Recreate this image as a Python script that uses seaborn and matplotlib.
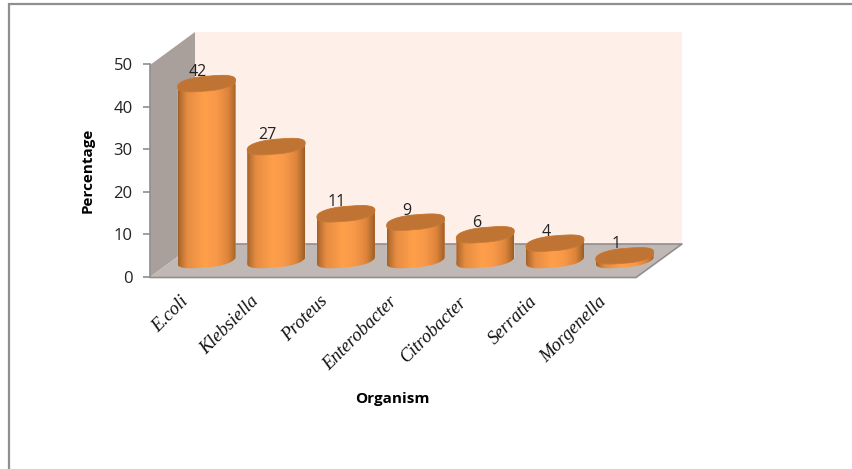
import numpy as np
import pandas as pd
import matplotlib
matplotlib.use("Agg")
import matplotlib.pyplot as plt
from matplotlib.colors import LinearSegmentedColormap
from matplotlib.patches import Polygon, PathPatch
from matplotlib.path import Path
import seaborn as sns

organisms = ["E.coli", "Klebsiella", "Proteus", "Enterobacter",
             "Citrobacter", "Serratia", "Morgenella"]
percentages = [42, 27, 11, 9, 6, 4, 1]
axis_ticks = [0, 10, 20, 30, 40, 50]

W, H = 852, 469
sns.set_theme(style="white")
plt.rcParams["font.family"] = ["Open Sans", "DejaVu Sans"]

fig = plt.figure(figsize=(W / 100, H / 100), dpi=100, facecolor="white")


def px_axes(left, top, right, bottom, **kw):
    """Axes placed by pixel box, measured from the top-left of the figure."""
    return fig.add_axes([left / W, 1 - bottom / H, (right - left) / W, (bottom - top) / H], **kw)


# Scenery: outer frame, walls and floor, in pixel coordinates
bg = px_axes(0, 0, W, H)
bg.set_xlim(0, W)
bg.set_ylim(H, 0)
bg.axis("off")
bg.plot([8.5, 8.5, W], [H, 4, 4], color="#8f8f8f", lw=1.6, solid_joinstyle="miter")
bg.add_patch(Polygon([(195, 32), (682, 32), (682, 244), (195, 244)], fc="#FEEFE8", ec="none"))
bg.add_patch(Polygon([(150, 65), (195, 32), (195, 244), (150, 277)], fc="#A9A09C", ec="none"))
bg.add_patch(Polygon([(150, 277), (195, 244), (682, 244), (636, 277)], fc="#C0B8B4", ec="none"))
bg.plot([195, 682, 636, 150], [244, 244, 277.5, 277.5], color="#8f8f8f", lw=1.2)

# Value axis along the front edge of the left wall
axv = px_axes(150, 64, 636, 277)
axv.patch.set_alpha(0)
axv.set_ylim(0, 50)
axv.set_xlim(0, 1)
axv.set_xticks([])
axv.set_yticks(axis_ticks)
axv.tick_params(axis="y", length=5, width=1.2, color="#8f8f8f", pad=7.5,
                labelsize=12, labelcolor="#222222", left=True)
for side in ("top", "right", "bottom"):
    axv.spines[side].set_visible(False)
axv.spines["left"].set_color("#8f8f8f")
axv.spines["left"].set_linewidth(1.2)
bg.text(88, 170, "Percentage", rotation=90, ha="center", va="center",
        fontsize=11, fontweight="bold", color="black")

# Cylinders: one category step is 69.7 px, one percent is 4.2 px, base sits at y=260
STEP, UNIT, BASE = 69.7, 4.2, 260
MARGIN = 12  # px of room under the base for the rounded cylinder foot
left = 206.5 - STEP / 2
axb = px_axes(left, 20, left + 7 * STEP, BASE + MARGIN)
axb.patch.set_alpha(0)
y_limits = (-MARGIN / UNIT, (BASE - 20) / UNIT)
axb.axis("off")

df = pd.DataFrame({"organism": organisms, "percentage": percentages})
sns.barplot(data=df, x="organism", y="percentage", ax=axb, color="#E88C40",
            width=58 / STEP, saturation=1, zorder=2)

shade = LinearSegmentedColormap.from_list("cyl", [
    (0.00, "#A0602A"), (0.05, "#BC7232"), (0.16, "#E68D42"), (0.45, "#FF9F4A"),
    (0.65, "#F8994A"), (0.85, "#DE853B"), (0.95, "#B46C2E"), (1.00, "#9A5C25")])
gradient = np.linspace(0, 1, 256)[None, :]

A, B, TILT = 29.0, 7.4, 3.4  # rim half-axes and tilt, px
ROUND = 0.82                 # exponent below 1 gives the rim blunt, squarish ends


def rim(cx, v, t):
    """Points on the slanted rim at value v, in data coordinates."""
    c, s = np.cos(t), np.sin(t)
    dx = A * np.sign(c) * np.abs(c) ** ROUND
    dy = B * np.sign(s) * np.abs(s) ** ROUND + TILT * c
    return cx + dx / STEP, v + dy / UNIT


for bar, value in zip(axb.patches, percentages):
    cx = bar.get_x() + bar.get_width() / 2
    tt = np.linspace(0, np.pi, 60)
    top_x, top_y = rim(cx, value, tt)            # far half of the top rim
    bot_x, bot_y = rim(cx, 0, tt + np.pi)        # near half of the base rim
    outline = Path(np.column_stack([np.r_[top_x, bot_x], np.r_[top_y, bot_y]]))
    clip = PathPatch(outline, transform=axb.transData, fc="none", ec="none")
    axb.add_patch(clip)
    bar.set_clip_path(clip)
    im = axb.imshow(gradient, cmap=shade, aspect="auto", zorder=3, interpolation="bilinear",
                    extent=[cx - A / STEP, cx + A / STEP, -3, value + 3])
    im.set_clip_path(clip)
    full = np.linspace(0, 2 * np.pi, 120)
    cap_x, cap_y = rim(cx, value, full)
    axb.add_patch(Polygon(np.column_stack([cap_x, cap_y]), fc="#BF7433", ec="#C77A38",
                          lw=0.6, zorder=4))
    axb.annotate(str(value), (cx, value), xytext=(-6.5, 2.5), textcoords="offset points",
                 ha="center", va="bottom", fontsize=11.5, color="#222222", zorder=5,
                 annotation_clip=False)
axb.set_xlim(-0.5, 6.5)
axb.set_ylim(*y_limits)

# Slanted category names and the horizontal axis title
for i, name in enumerate(organisms):
    x = 186 + i * STEP
    bg.text(x, 299, name, rotation=45, rotation_mode="anchor", ha="right", va="center",
            family="Liberation Serif", style="italic", fontsize=13.3, color="#111111")
bg.text(392, 399, "Organism", ha="center", va="center", fontsize=11,
        fontweight="bold", color="black")

fig.savefig("out.png", dpi=100)
